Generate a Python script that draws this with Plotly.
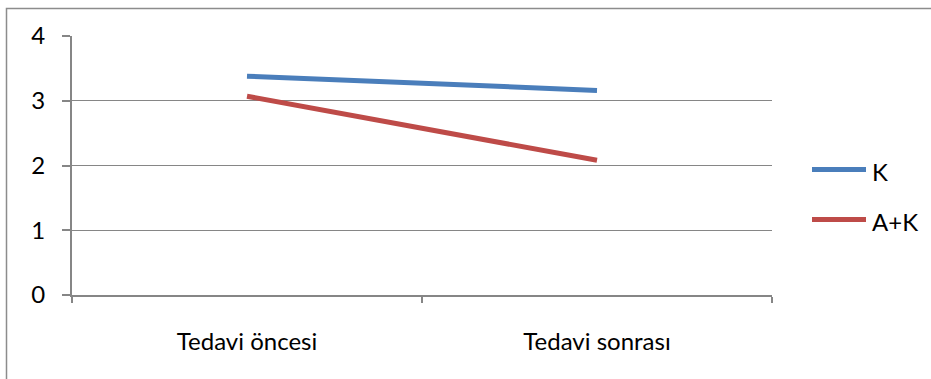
import plotly.graph_objects as go

# Data
categories = ["Tedavi öncesi", "Tedavi sonrası"]
series_names = ["K", "A+K"]
k_values = [3.38, 3.16]
ak_values = [3.07, 2.08]
y_ticks = [0, 1, 2, 3, 4]

colors = ["#4A7EBB", "#BE4B48"]
FONT = "Lato"
FS = 24
W, H = 931, 379
L, R, T, B = 72, 159, 36, 84
pw, ph = W - L - R, H - T - B

def px_x(x):
    return (x - L) / pw

def px_y(y):
    return (H - B - y) / ph

fig = go.Figure()
for name, vals, col in zip(series_names, [k_values, ak_values], colors):
    fig.add_trace(go.Scatter(
        x=categories, y=vals, mode="lines", name=name,
        line=dict(color=col, width=5), showlegend=False,
    ))

# Hand-drawn legend on the right
legend_y = [169.5, 219.5]
shapes = []
annotations = []
for name, col, ly in zip(series_names, colors, legend_y):
    shapes.append(dict(type="line", xref="paper", yref="paper",
                       x0=px_x(812), x1=px_x(866), y0=px_y(ly), y1=px_y(ly),
                       line=dict(color=col, width=5)))
    annotations.append(dict(xref="paper", yref="paper", x=px_x(870), y=px_y(ly + 2),
                            text=name, showarrow=False, xanchor="left", yanchor="middle",
                            font=dict(family=FONT, size=FS, color="#000")))

# Chart-area border (top and left edges visible)
shapes.append(dict(type="rect", xref="paper", yref="paper",
                   x0=px_x(6.5), x1=px_x(960), y0=px_y(420), y1=px_y(8.5),
                   line=dict(color="#8C8C8C", width=1.5), layer="below"))

fig.update_layout(
    width=W, height=H,
    margin=dict(l=L, r=R, t=T, b=B),
    paper_bgcolor="white", plot_bgcolor="white",
    shapes=shapes, annotations=annotations,
    showlegend=False,
)
fig.update_xaxes(
    type="category", range=[-0.5, 1.5], tickson="boundaries",
    showgrid=False, showline=True, linecolor="#868686", linewidth=2,
    ticks="outside", ticklen=6, tickwidth=1.5, tickcolor="#868686",
    tickfont=dict(family=FONT, size=FS, color="#000"),
    ticklabelstandoff=24, zeroline=False,
)
fig.update_yaxes(
    range=[0, 4], tickvals=y_ticks,
    showgrid=True, gridcolor="#868686", gridwidth=1.3,
    showline=True, linecolor="#868686", linewidth=2,
    ticks="outside", ticklen=8, tickwidth=1.5, tickcolor="#868686",
    tickfont=dict(family=FONT, size=FS, color="#000"),
    ticklabelstandoff=12, zeroline=False,
)

fig.write_html("out.html")
